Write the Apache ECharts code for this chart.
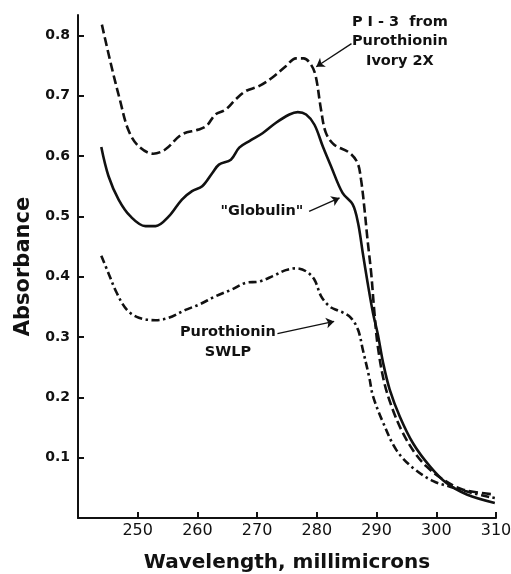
<!DOCTYPE html>
<html><head><meta charset="utf-8">
<script src="https://cdn.jsdelivr.net/npm/echarts@6/dist/echarts.min.js"></script>
<style>html,body{margin:0;padding:0;background:#fff}#c{width:511px;height:574px}</style>
</head><body><div id="c"></div>
<script>
// Tick values
const xTicks = [250, 260, 270, 280, 290, 300, 310];
const yTicks = [0.1, 0.2, 0.3, 0.4, 0.5, 0.6, 0.7, 0.8];

// PI-3 from Purothionin Ivory 2X (dashed)
const pi3 = [[244.0,0.818],[245.6,0.749],[247.0,0.694],[248.4,0.644],[250.1,0.617],[252.6,0.604],[254.6,0.611],[257.4,0.636],[260.2,0.644],[261.6,0.651],[263.0,0.669],[264.7,0.677],[266.4,0.694],[268.1,0.708],[270.3,0.716],[272.5,0.730],[274.8,0.749],[276.5,0.762],[277.8,0.762],[279.0,0.752],[279.8,0.733],[280.7,0.677],[281.5,0.639],[282.9,0.619],[285.4,0.606],[286.8,0.589],[287.4,0.561],[288.0,0.510],[288.5,0.460],[289.1,0.406],[289.6,0.345],[290.2,0.285],[291.3,0.224],[292.7,0.180],[294.4,0.141],[296.4,0.108],[298.3,0.086],[301.1,0.064],[304.5,0.047],[309.8,0.039]];

// "Globulin" (solid)
const globulin = [[243.9,0.615],[245.1,0.567],[246.8,0.528],[248.8,0.500],[251.3,0.484],[253.0,0.484],[255.2,0.500],[257.4,0.528],[259.1,0.542],[260.8,0.550],[262.5,0.572],[263.6,0.586],[265.6,0.594],[267.0,0.614],[268.7,0.625],[270.9,0.638],[273.1,0.655],[275.4,0.669],[276.8,0.673],[278.2,0.669],[279.6,0.652],[281.0,0.616],[282.3,0.585],[284.3,0.539],[286.0,0.520],[286.9,0.489],[287.7,0.439],[288.5,0.390],[289.4,0.340],[290.2,0.305],[291.1,0.257],[292.2,0.213],[293.9,0.168],[296.1,0.124],[298.9,0.086],[301.7,0.058],[305.1,0.039],[309.8,0.025]];

// Purothionin SWLP (dash-dot)
const swlp = [[243.9,0.435],[245.1,0.406],[246.5,0.373],[248.2,0.345],[250.2,0.332],[253.0,0.328],[255.2,0.332],[258.0,0.345],[260.3,0.354],[263.1,0.368],[265.8,0.379],[268.1,0.390],[270.3,0.392],[272.6,0.401],[274.8,0.411],[276.5,0.414],[278.2,0.409],[279.6,0.395],[280.7,0.368],[282.1,0.351],[283.5,0.344],[284.3,0.341],[285.7,0.332],[286.9,0.312],[287.7,0.279],[288.8,0.232],[289.4,0.202],[291.1,0.158],[293.3,0.113],[296.1,0.083],[299.5,0.061],[302.3,0.052],[306.2,0.041],[309.8,0.033]];

// Annotations (data coordinates)
const labelTexts = ['P I - 3  from\nPurothionin\nIvory 2X', '"Globulin"', 'Purothionin\nSWLP'];
const labelPos = [[293.9, 0.790], [270.8, 0.509], [265.1, 0.2915]];
const arrowFrom = [[285.8, 0.7865], [278.7, 0.5085], [273.4, 0.3056]];
const arrowTo = [[279.9, 0.7483], [283.8, 0.5307], [282.9, 0.3260]];

const INK = '#111';
const chart = echarts.init(document.getElementById('c'), null, {renderer: 'canvas'});
function lineSeries(name, data, type) {
  return {
    name, type: 'line', data, showSymbol: false, smooth: 0.35,
    lineStyle: {color: INK, width: 2.6, type: type},
    emphasis: {disabled: true}, silent: true, z: 3
  };
}
chart.setOption({
  animation: false,
  backgroundColor: '#fff',
  grid: {left: 78, right: 15, top: 15, bottom: 56, containLabel: false, outerBoundsMode: 'none'},
  xAxis: {
    type: 'value', min: 240, max: 310, interval: 10,
    name: 'Wavelength, millimicrons', nameLocation: 'middle', nameGap: 35,
    nameTextStyle: {fontFamily: 'DejaVu Sans', fontWeight: 'bold', fontSize: 20, color: INK},
    axisLine: {show: true, lineStyle: {color: INK, width: 2}},
    axisTick: {show: true, inside: true, length: 6, lineStyle: {color: INK, width: 2}, customValues: xTicks},
    axisLabel: {fontFamily: 'DejaVu Sans', fontSize: 16, color: INK, margin: 5, customValues: xTicks},
    splitLine: {show: false}
  },
  yAxis: {
    type: 'value', min: 0, max: 0.834, interval: 0.1,
    name: 'Absorbance', nameLocation: 'middle', nameGap: 44,
    nameTextStyle: {fontFamily: 'DejaVu Sans', fontWeight: 'bold', fontSize: 21, color: INK},
    axisLine: {show: true, lineStyle: {color: INK, width: 2}},
    axisTick: {show: true, inside: true, length: 6, lineStyle: {color: INK, width: 2}, customValues: yTicks},
    axisLabel: {fontFamily: 'DejaVu Sans', fontWeight: 'bold', fontSize: 14, color: INK, margin: 8,
      customValues: yTicks, formatter: v => v.toFixed(1)},
    splitLine: {show: false}
  },
  series: [
    lineSeries('PI-3 from Purothionin Ivory 2X', pi3, [9, 4]),
    lineSeries('"Globulin"', globulin, 'solid'),
    lineSeries('Purothionin SWLP', swlp, [8, 3.5, 2.5, 3.5]),
    {
      type: 'scatter', silent: true, symbolSize: 0, itemStyle: {color: INK},
      data: labelPos.map((p, i) => ({value: p, label: {formatter: labelTexts[i]}})),
      label: {show: true, position: 'inside', align: 'center', verticalAlign: 'middle',
        fontFamily: 'DejaVu Sans', fontWeight: 'bold', fontSize: 14.5, lineHeight: 19.5,
        color: INK, textBorderWidth: 0, textShadowBlur: 0, opacity: 1},
      markLine: {
        silent: true, symbol: ['none', 'arrow'], symbolSize: 8, animation: false,
        label: {show: false},
        lineStyle: {color: INK, width: 1.3, type: 'solid'},
        emphasis: {disabled: true},
        data: arrowFrom.map((f, i) => [{coord: f}, {coord: arrowTo[i]}])
      },
      z: 4
    }
  ]
});
</script></body></html>
